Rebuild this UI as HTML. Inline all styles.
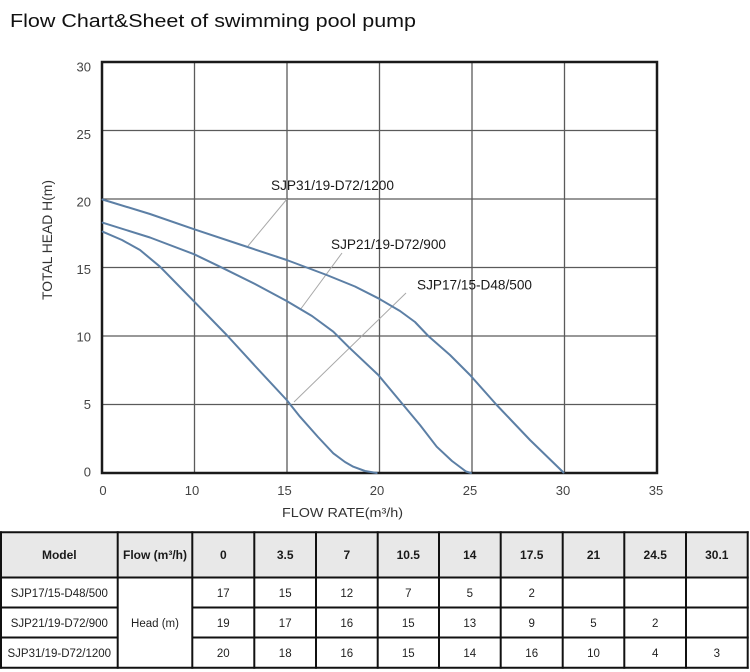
<!DOCTYPE html>
<html><head><meta charset="utf-8"><style>
html,body{margin:0;padding:0;background:#fff;}
svg{display:block;}
</style></head><body>
<svg width="750" height="672" viewBox="0 0 750 672" xmlns="http://www.w3.org/2000/svg">
<rect width="750" height="672" fill="#fff"/>
<text x="10" y="27" font-family="Liberation Sans, sans-serif" font-size="18.5" fill="#111" textLength="406" lengthAdjust="spacingAndGlyphs">Flow Chart&amp;Sheet of swimming pool pump</text>

<!-- grid -->
<g stroke="#5a5a5a" stroke-width="1.3" fill="none">
<line x1="194.5" y1="62" x2="194.5" y2="473"/>
<line x1="287" y1="62" x2="287" y2="473"/>
<line x1="379.5" y1="62" x2="379.5" y2="473"/>
<line x1="472" y1="62" x2="472" y2="473"/>
<line x1="564.5" y1="62" x2="564.5" y2="473"/>
<line x1="102" y1="130.5" x2="657" y2="130.5"/>
<line x1="102" y1="199" x2="657" y2="199"/>
<line x1="102" y1="267.5" x2="657" y2="267.5"/>
<line x1="102" y1="336" x2="657" y2="336"/>
<line x1="102" y1="404.5" x2="657" y2="404.5"/>
</g>
<rect x="102" y="62" width="555" height="411" fill="none" stroke="#1a1a1a" stroke-width="2.5"/>

<!-- leader lines -->
<g stroke="#a8a8a8" stroke-width="1" fill="none">
<line x1="248" y1="246" x2="287" y2="199"/>
<line x1="300" y1="310" x2="342" y2="253"/>
<line x1="294" y1="402" x2="406" y2="293"/>
</g>

<!-- curves -->
<g stroke="#5c7fa5" stroke-width="2" fill="none" stroke-linejoin="round" stroke-linecap="round">
<polyline points="102.5,199.5 150,214 194.3,229.3 240,244.5 286.7,260 326.7,275 355,286.5 378.3,298.3 400,311 415,322 428.3,336 450,355 470,375 496.7,405 530,440 563.5,472.5"/>
<polyline points="102.7,222.7 150,237.5 194.3,254.3 223.3,268.3 255,284 286.7,301 312,316 333.3,331.7 348.3,346.7 378.3,375 403.3,405 420,425 436.7,446.7 452,461 466,471.5 471,473"/>
<polyline points="102.7,231.7 122,240 140,250 160,266.7 176,283 194.3,301.7 226.7,335 256,367 286.7,400 300,416.7 318,437 333.3,453.3 345,462 353.3,466.7 365,471 376.7,473"/>
</g>

<!-- curve labels -->
<g font-family="Liberation Sans, sans-serif" font-size="14" fill="#1a1a1a">
<text x="271" y="190" textLength="123" lengthAdjust="spacingAndGlyphs">SJP31/19-D72/1200</text>
<text x="331" y="249" textLength="115" lengthAdjust="spacingAndGlyphs">SJP21/19-D72/900</text>
<text x="417" y="289.5" textLength="115" lengthAdjust="spacingAndGlyphs">SJP17/15-D48/500</text>
</g>

<!-- y tick labels -->
<g font-family="Liberation Sans, sans-serif" font-size="13" fill="#444" text-anchor="end">
<text x="91" y="71.5">30</text>
<text x="91" y="139">25</text>
<text x="91" y="206.5">20</text>
<text x="91" y="274">15</text>
<text x="91" y="341.5">10</text>
<text x="91" y="409">5</text>
<text x="91" y="476.5">0</text>
</g>
<!-- x tick labels -->
<g font-family="Liberation Sans, sans-serif" font-size="13" fill="#444" text-anchor="middle">
<text x="103" y="495">0</text>
<text x="192" y="495">10</text>
<text x="284.5" y="495">15</text>
<text x="377" y="495">20</text>
<text x="470" y="495">25</text>
<text x="563" y="495">30</text>
<text x="656" y="495">35</text>
</g>
<text x="282" y="517" font-family="Liberation Sans, sans-serif" font-size="13" fill="#333" textLength="121" lengthAdjust="spacingAndGlyphs">FLOW RATE(m³/h)</text>
<text transform="translate(52,240) rotate(-90)" x="0" y="0" text-anchor="middle" font-family="Liberation Sans, sans-serif" font-size="13.5" fill="#333" textLength="120" lengthAdjust="spacingAndGlyphs">TOTAL HEAD H(m)</text>

<!-- table -->
<rect x="1" y="532.3" width="746.7" height="45.2" fill="#e8e8e8"/>
<g stroke="#111" stroke-width="2" fill="none">
<line x1="0" y1="532.3" x2="748.7" y2="532.3"/>
<line x1="0" y1="577.5" x2="748.7" y2="577.5"/>
<line x1="0" y1="607.5" x2="117.7" y2="607.5"/>
<line x1="192.3" y1="607.5" x2="748.7" y2="607.5"/>
<line x1="0" y1="637.5" x2="117.7" y2="637.5"/>
<line x1="192.3" y1="637.5" x2="748.7" y2="637.5"/>
<line x1="0" y1="667.8" x2="748.7" y2="667.8"/>
<line x1="1" y1="531.3" x2="1" y2="668.8"/>
<line x1="117.7" y1="531.3" x2="117.7" y2="668.8"/>
<line x1="192.3" y1="531.3" x2="192.3" y2="668.8"/>
<line x1="254.3" y1="531.3" x2="254.3" y2="668.8"/>
<line x1="316" y1="531.3" x2="316" y2="668.8"/>
<line x1="377.7" y1="531.3" x2="377.7" y2="668.8"/>
<line x1="439" y1="531.3" x2="439" y2="668.8"/>
<line x1="500.7" y1="531.3" x2="500.7" y2="668.8"/>
<line x1="562.7" y1="531.3" x2="562.7" y2="668.8"/>
<line x1="624.3" y1="531.3" x2="624.3" y2="668.8"/>
<line x1="686" y1="531.3" x2="686" y2="668.8"/>
<line x1="747.7" y1="531.3" x2="747.7" y2="668.8"/>
</g>
<g font-family="Liberation Sans, sans-serif" font-size="12" font-weight="bold" fill="#1a1a1a" text-anchor="middle">
<text x="59.3" y="559">Model</text>
<text x="155" y="559">Flow (m³/h)</text>
<text x="223.3" y="559">0</text>
<text x="285.2" y="559">3.5</text>
<text x="346.8" y="559">7</text>
<text x="408.3" y="559">10.5</text>
<text x="469.8" y="559">14</text>
<text x="531.7" y="559">17.5</text>
<text x="593.5" y="559">21</text>
<text x="655.2" y="559">24.5</text>
<text x="716.8" y="559">30.1</text>
</g>
<g font-family="Liberation Sans, sans-serif" font-size="11.5" fill="#222" text-anchor="middle">
<text x="59.3" y="597">SJP17/15-D48/500</text>
<text x="59.3" y="627">SJP21/19-D72/900</text>
<text x="59.3" y="657">SJP31/19-D72/1200</text>
<text x="155" y="627">Head (m)</text>
<text x="223.3" y="597">17</text><text x="285.2" y="597">15</text><text x="346.8" y="597">12</text><text x="408.3" y="597">7</text><text x="469.8" y="597">5</text><text x="531.7" y="597">2</text>
<text x="223.3" y="627">19</text><text x="285.2" y="627">17</text><text x="346.8" y="627">16</text><text x="408.3" y="627">15</text><text x="469.8" y="627">13</text><text x="531.7" y="627">9</text><text x="593.5" y="627">5</text><text x="655.2" y="627">2</text>
<text x="223.3" y="657">20</text><text x="285.2" y="657">18</text><text x="346.8" y="657">16</text><text x="408.3" y="657">15</text><text x="469.8" y="657">14</text><text x="531.7" y="657">16</text><text x="593.5" y="657">10</text><text x="655.2" y="657">4</text><text x="716.8" y="657">3</text>
</g>
</svg>
</body></html>
